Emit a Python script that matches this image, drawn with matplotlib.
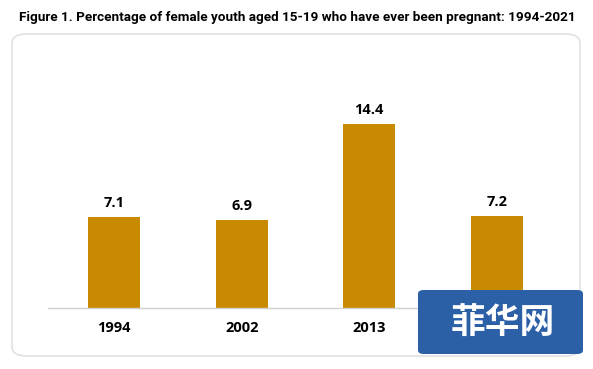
import matplotlib
matplotlib.use("Agg")
import matplotlib.pyplot as plt
from matplotlib.patches import FancyBboxPatch

years = ["1994", "2002", "2013", "2021"]
values = [7.1, 6.9, 14.4, 7.2]
title = "Figure 1. Percentage of female youth aged 15-19 who have ever been pregnant: 1994-2021"

W, H = 593, 369
fig = plt.figure(figsize=(W / 100, H / 100), dpi=100)

# rounded frame around the chart
frame = FancyBboxPatch((12 / W, 13 / H), 568 / W, 322 / H,
                       boxstyle="round,pad=0,rounding_size=0.025",
                       transform=fig.transFigure, facecolor="white",
                       edgecolor="#dcdcdc", linewidth=1.0, zorder=-1)
fig.patches.append(frame)

fig.text(297 / W, 1 - 18 / H, title, ha="center", va="center",
         fontsize=9.7, fontweight="bold",
         family=["Liberation Sans Narrow", "Roboto", "DejaVu Sans"])

ax = fig.add_axes([48 / W, 61 / H, 515 / W, 204.8 / H])
ax.set_facecolor("none")
x = range(len(years))
bars = ax.bar(x, values, width=0.41, color="#C88A00")
for xi, v in zip(x, values):
    ax.text(xi, v + 0.55, f"{v}", ha="center", va="bottom",
            fontsize=10.5, fontweight="bold", family="Open Sans")

ax.set_xlim(-0.52, 3.52)
ax.set_ylim(0, 16)
ax.set_xticks(list(x))
ax.set_xticklabels(years, fontsize=10.5, fontweight="bold", family="Open Sans")
ax.tick_params(axis="x", length=0, pad=9)
ax.set_yticks([])
for s in ["top", "right", "left"]:
    ax.spines[s].set_visible(False)
ax.spines["bottom"].set_color("#d0d0d0")
ax.spines["bottom"].set_linewidth(1.0)

# site watermark
wm = FancyBboxPatch((418 / W, 1 - 354 / H), 165 / W, 64 / H,
                    boxstyle="round,pad=0,rounding_size=0.01",
                    transform=fig.transFigure, facecolor="#2B5FA6",
                    edgecolor="none", zorder=5)
fig.patches.append(wm)
fig.text(503 / W, 1 - 322 / H, "菲华网", ha="center", va="center",
         fontsize=25, fontweight="bold", color="white",
         family=["Noto Sans CJK SC", "DejaVu Sans"], zorder=6)

fig.savefig("out.png", dpi=100)
